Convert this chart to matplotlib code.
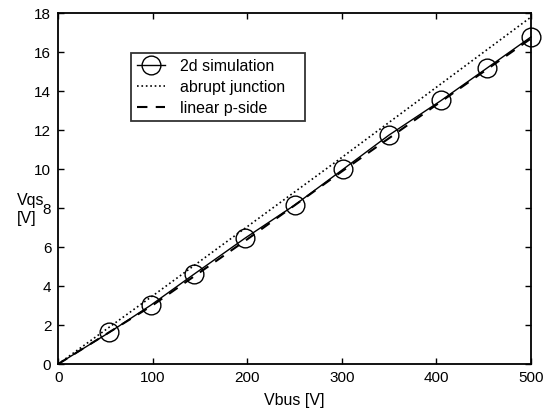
import matplotlib
matplotlib.use("Agg")
import matplotlib.pyplot as plt
import numpy as np

plt.rcParams['font.family'] = ['Liberation Sans', 'DejaVu Sans']

# 2d simulation points
sim_x = [0, 54, 98, 144, 198, 250, 301, 350, 405, 454, 500]
sim_y = [0, 1.62, 3.02, 4.62, 6.47, 8.15, 9.98, 11.75, 13.52, 15.2, 16.78]
# circles only drawn at these (not at origin)
mark_idx = list(range(1, len(sim_x)))

# abrupt junction (dotted)
abrupt_x = [0, 100, 200, 300, 400, 500]
abrupt_y = [0, 3.5, 7.05, 10.6, 14.2, 17.8]

# linear p-side (dashed)
lin_x = [0, 100, 200, 300, 400, 500]
lin_y = [0, 3.02, 6.4, 9.88, 13.3, 16.7]

fig = plt.figure(figsize=(5.44, 4.12), dpi=100)
ax = fig.add_axes([0.107, 0.1165, 0.869, 0.8515])

ax.plot(sim_x, sim_y, color='black', linewidth=1.0, marker='o', markersize=13.5,
        markerfacecolor='none', markeredgewidth=1.0, markevery=mark_idx,
        label='2d simulation', clip_on=False, zorder=3)
ax.plot(abrupt_x, abrupt_y, color='black', linewidth=1.2, linestyle=':',
        label='abrupt junction')
ax.plot(lin_x, lin_y, color='black', linewidth=1.5, linestyle=(0, (5, 4)),
        label='linear p-side')

ax.set_xlim(0, 500)
ax.set_ylim(0, 18)
ax.set_xticks(np.arange(0, 501, 100))
ax.set_yticks(np.arange(0, 19, 2))
ax.tick_params(direction='in', top=True, right=True, length=4, labelsize=11,
               width=1, pad=5)
for s in ax.spines.values():
    s.set_linewidth(1.3)

ax.set_xlabel('Vbus [V]', fontsize=11.5, labelpad=6)
ax.set_ylabel('Vqs\n[V]', fontsize=11.5, rotation=0, ha='left',
              multialignment='left', va='center')
ax.yaxis.set_label_coords(-0.088, 0.44)

leg = ax.legend(loc='upper left', bbox_to_anchor=(0.154, 0.886, 0.368, 0.0),
                mode='expand', fontsize=11.5,
                frameon=True, fancybox=False, edgecolor='black',
                handlelength=1.8, borderpad=0.35, labelspacing=0.38,
                handletextpad=0.9, borderaxespad=0)
leg.get_frame().set_linewidth(1.3)

fig.savefig('out.png', dpi=100)
